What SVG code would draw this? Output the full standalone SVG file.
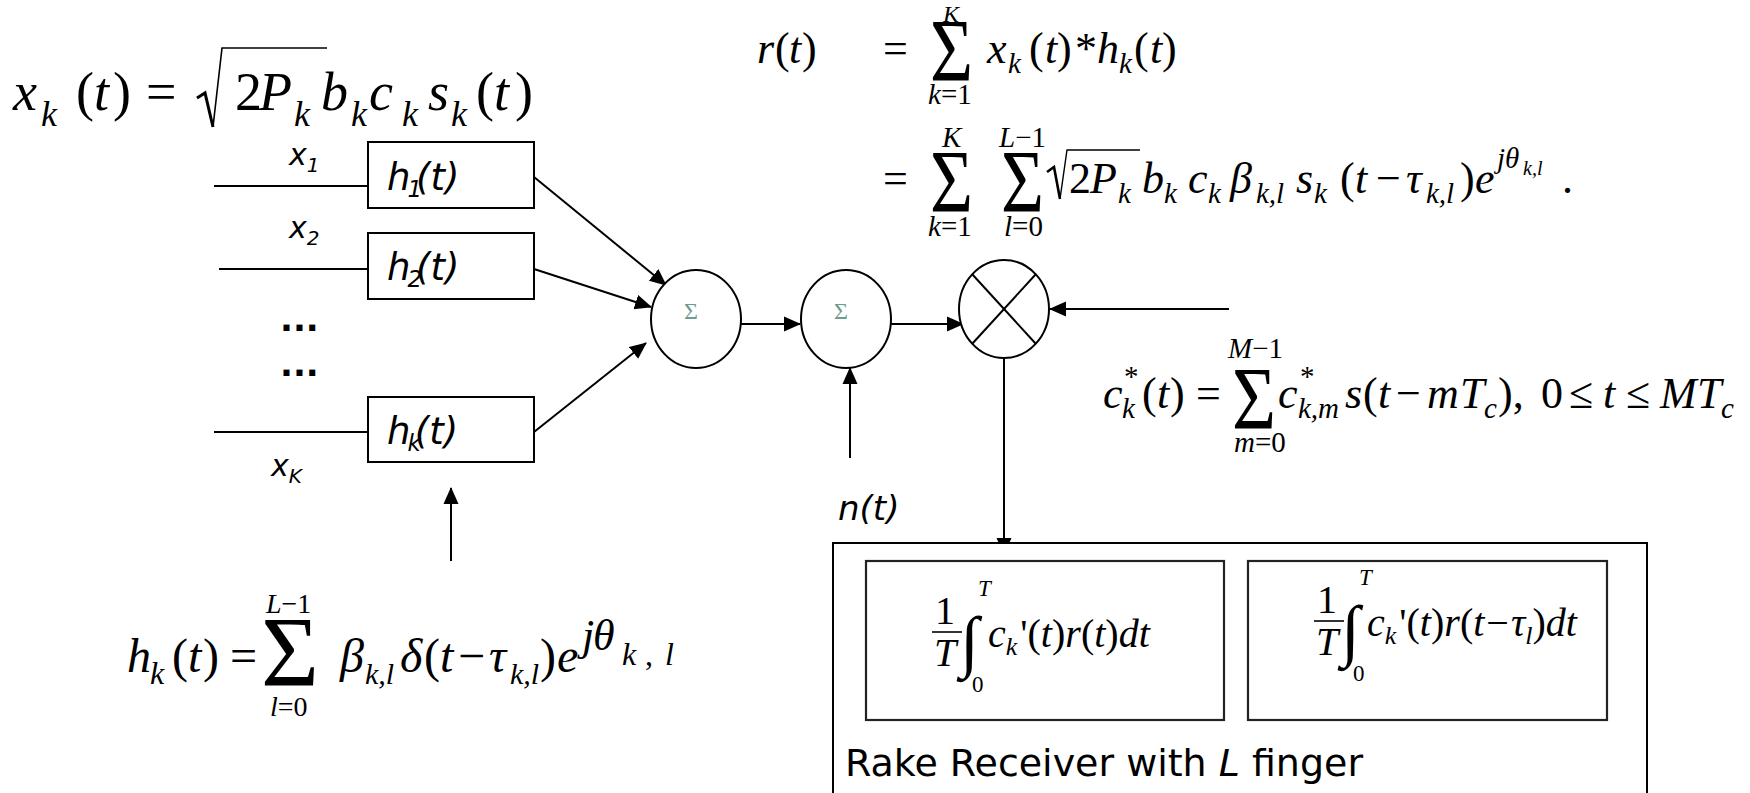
<svg xmlns="http://www.w3.org/2000/svg" width="1750" height="793" viewBox="0 0 1750 793">
<defs>
<style>
.m{font-family:'Liberation Serif',serif;fill:#000}
.i{font-style:italic}
.sn{font-family:'DejaVu Sans',sans-serif;font-style:oblique;fill:#000}
.ln{stroke:#000;stroke-width:2;fill:none}
.box{fill:#fff;stroke:#000;stroke-width:2}
.fbox{fill:#fff;stroke:#222;stroke-width:2.2}
.sig{font-family:'Liberation Serif',serif;font-size:24px;fill:#6e9c8e;text-anchor:middle}
.arr{marker-end:url(#ah)}
</style>
<marker id="ah" markerUnits="userSpaceOnUse" markerWidth="18" markerHeight="16" refX="16" refY="8" orient="auto"><path d="M0,0.5 L17,8 L0,15.5 z" fill="#000"/></marker>
</defs>
<rect width="1750" height="793" fill="#fff"/>

<g id="connectors">
<line class="ln" x1="214" y1="186" x2="369" y2="186"/>
<line class="ln" x1="219" y1="269" x2="369" y2="269"/>
<line class="ln" x1="214" y1="432" x2="369" y2="432"/>
<line class="ln arr" x1="534" y1="177" x2="666" y2="285"/>
<line class="ln arr" x1="534" y1="269" x2="651" y2="307"/>
<line class="ln arr" x1="534" y1="432" x2="646" y2="343"/>
<line class="ln arr" x1="734" y1="324" x2="800" y2="324"/>
<line class="ln arr" x1="884" y1="324" x2="963" y2="324"/>
<line class="ln arr" x1="1229" y1="309" x2="1050" y2="309"/>
<line class="ln arr" x1="850" y1="458" x2="850" y2="368"/>
<line class="ln arr" x1="1004" y1="358" x2="1004" y2="554"/>
<line class="ln arr" x1="451" y1="561" x2="451" y2="488"/>
</g>

<g id="n-h1"><rect class="box" x="368" y="142" width="166" height="66"/>
<text class="sn" x="387" y="190" font-size="37">h<tspan font-size="23" dy="7" dx="-3">1</tspan><tspan dy="-7" dx="-6">(t)</tspan></text></g>
<g id="n-h2"><rect class="box" x="368" y="233" width="166" height="66"/>
<text class="sn" x="387" y="280" font-size="37">h<tspan font-size="23" dy="7" dx="-3">2</tspan><tspan dy="-7" dx="-6">(t)</tspan></text></g>
<g id="n-hk"><rect class="box" x="368" y="397" width="166" height="65"/>
<text class="sn" x="387" y="444" font-size="37">h<tspan font-size="23" dy="7" dx="-3">k</tspan><tspan dy="-7" dx="-6">(t)</tspan></text></g>

<g id="labels-x">
<text class="sn" x="289" y="165" font-size="30">x<tspan font-size="20" dy="7">1</tspan></text>
<text class="sn" x="289" y="238" font-size="30">x<tspan font-size="20" dy="7">2</tspan></text>
<text class="sn" x="271" y="476" font-size="30">x<tspan font-size="20" dy="7">K</tspan></text>
<text x="280" y="331" font-family="'DejaVu Sans',sans-serif" font-weight="bold" font-size="34">...</text>
<text x="280" y="376" font-family="'DejaVu Sans',sans-serif" font-weight="bold" font-size="34">...</text>
<text class="sn" x="838" y="520" font-size="34">n(t)</text>
</g>

<g id="n-sum1"><ellipse class="box" cx="696" cy="319" rx="45" ry="49"/><text class="sig" x="691" y="319">Σ</text></g>
<g id="n-sum2"><ellipse class="box" cx="846" cy="319" rx="45" ry="49"/><text class="sig" x="841" y="319">Σ</text></g>
<g id="n-mult"><ellipse class="box" cx="1004" cy="309" rx="45" ry="49"/>
<line class="ln" x1="972" y1="274" x2="1036" y2="344"/><line class="ln" x1="1036" y1="274" x2="972" y2="344"/></g>

<g id="n-rake">
<rect class="box" x="833" y="543" width="814" height="270"/>
<text x="845" y="776" font-family="'DejaVu Sans',sans-serif" font-size="38" textLength="518" lengthAdjust="spacingAndGlyphs">Rake Receiver with <tspan font-style="oblique">L</tspan> finger</text>
</g>
<g id="n-finger1">
<rect class="fbox" x="866" y="561" width="358" height="159"/>
<text class="m" font-size="40" x="935" y="624">1</text>
<line x1="932" y1="632" x2="962" y2="632" stroke="#000" stroke-width="1.6"/>
<text class="m i" font-size="40" x="934" y="666">T</text>
<text class="m" font-size="68" x="960" y="664">∫</text>
<text class="m i" font-size="23" x="978" y="596">T</text>
<text class="m" font-size="23" x="972" y="692">0</text>
<text class="m" font-size="40" x="988" y="647"><tspan class="i">c</tspan><tspan class="i" font-size="26" dy="8">k</tspan><tspan dy="-8" dx="3">'(</tspan><tspan class="i">t</tspan>)<tspan class="i">r</tspan>(<tspan class="i">t</tspan>)<tspan class="i">dt</tspan></text>
</g>
<g id="n-finger2">
<rect class="fbox" x="1248" y="561" width="359" height="159"/>
<text class="m" font-size="40" x="1317" y="613">1</text>
<line x1="1314" y1="621" x2="1344" y2="621" stroke="#000" stroke-width="1.6"/>
<text class="m i" font-size="40" x="1316" y="655">T</text>
<text class="m" font-size="68" x="1341" y="653">∫</text>
<text class="m i" font-size="23" x="1359" y="585">T</text>
<text class="m" font-size="23" x="1353" y="681">0</text>
<text class="m" font-size="40" x="1367" y="636"><tspan class="i">c</tspan><tspan class="i" font-size="26" dy="8">k</tspan><tspan dy="-8" dx="3">'(</tspan><tspan class="i">t</tspan>)<tspan class="i">r</tspan>(<tspan class="i">t</tspan><tspan dx="2">−</tspan><tspan class="i" dx="2">τ</tspan><tspan class="i" font-size="26" dy="8">l</tspan><tspan dy="-8">)</tspan><tspan class="i">dt</tspan></text>
</g>

<g id="eq-xk">
<text class="m" font-size="54">
<tspan class="i" x="13" y="110">x</tspan><tspan class="i" x="41" y="126" font-size="36">k</tspan><tspan x="76" y="110">(</tspan><tspan class="i" x="94" y="110">t</tspan><tspan x="113" y="110">)</tspan><tspan x="146" y="110">=</tspan><tspan x="235" y="110">2</tspan><tspan class="i" x="259" y="110">P</tspan><tspan class="i" x="294" y="126" font-size="36">k</tspan><tspan class="i" x="321" y="110">b</tspan><tspan class="i" x="351" y="126" font-size="36">k</tspan><tspan class="i" x="369" y="110">c</tspan><tspan class="i" x="402" y="126" font-size="36">k</tspan><tspan class="i" x="428" y="110">s</tspan><tspan class="i" x="451" y="126" font-size="36">k</tspan><tspan x="476" y="110">(</tspan><tspan class="i" x="494" y="110">t</tspan><tspan x="515" y="110">)</tspan>
</text>
<polyline points="197,98 205,93 213,127" fill="none" stroke="#000" stroke-width="3"/>
<polyline points="213,127 222,48 327,48" fill="none" stroke="#000" stroke-width="1.6"/>
</g>

<g id="eq-rt">
<text class="m" font-size="44">
<tspan class="i" x="757" y="63">r</tspan><tspan x="775" y="63">(</tspan><tspan class="i" x="789" y="63">t</tspan><tspan x="802" y="63">)</tspan>
<tspan x="883" y="63">=</tspan>
<tspan class="i" x="987" y="63">x</tspan><tspan class="i" x="1008" y="73" font-size="29">k</tspan><tspan x="1029" y="63">(</tspan><tspan class="i" x="1045" y="63">t</tspan><tspan x="1057" y="63">)</tspan><tspan x="1075" y="63">*</tspan><tspan class="i" x="1097" y="63">h</tspan><tspan class="i" x="1119" y="73" font-size="29">k</tspan><tspan x="1134" y="63">(</tspan><tspan class="i" x="1150" y="63">t</tspan><tspan x="1162" y="63">)</tspan>
<tspan x="883" y="193">=</tspan>
<tspan x="1069" y="193">2</tspan><tspan class="i" x="1090" y="193">P</tspan><tspan class="i" x="1118" y="203" font-size="29">k</tspan><tspan class="i" x="1142" y="193">b</tspan><tspan class="i" x="1164" y="203" font-size="29">k</tspan><tspan class="i" x="1188" y="193">c</tspan><tspan class="i" x="1208" y="203" font-size="29">k</tspan><tspan class="i" x="1230" y="193">β</tspan><tspan class="i" x="1256" y="203" font-size="29">k,l</tspan><tspan class="i" x="1296" y="193">s</tspan><tspan class="i" x="1314" y="203" font-size="29">k</tspan><tspan x="1340" y="193">(</tspan><tspan class="i" x="1355" y="193">t</tspan><tspan x="1376" y="193">−</tspan><tspan class="i" x="1406" y="193">τ</tspan><tspan class="i" x="1426" y="203" font-size="29">k,l</tspan><tspan x="1460" y="193">)</tspan><tspan class="i" x="1475" y="193">e</tspan><tspan class="i" x="1497" y="168" font-size="29">jθ</tspan><tspan class="i" x="1523" y="175" font-size="20">k,l</tspan><tspan x="1562" y="193">.</tspan>
</text>
<text class="m" x="930" y="80" font-size="88" textLength="43" lengthAdjust="spacingAndGlyphs">Σ</text>
<text class="m i" x="943" y="22" font-size="24">K</text>
<text class="m" x="928" y="104" font-size="29"><tspan class="i">k</tspan>=1</text>
<text class="m" x="930" y="211" font-size="88" textLength="43" lengthAdjust="spacingAndGlyphs">Σ</text>
<text class="m i" x="942" y="147" font-size="29">K</text>
<text class="m" x="928" y="236" font-size="29"><tspan class="i">k</tspan>=1</text>
<text class="m" x="1001" y="211" font-size="88" textLength="43" lengthAdjust="spacingAndGlyphs">Σ</text>
<text class="m" x="999" y="147" font-size="29"><tspan class="i">L</tspan>−1</text>
<text class="m" x="1004" y="236" font-size="29"><tspan class="i">l</tspan>=0</text>
<polyline points="1047,172 1054,167 1060,199" fill="none" stroke="#000" stroke-width="2.6"/>
<polyline points="1060,199 1067,150 1140,150" fill="none" stroke="#000" stroke-width="1.4"/>
</g>

<g id="eq-ck">
<text class="m" font-size="44">
<tspan class="i" x="1103" y="408">c</tspan><tspan x="1124" y="386" font-size="29">*</tspan><tspan class="i" x="1122" y="418" font-size="29">k</tspan><tspan x="1142" y="408">(</tspan><tspan class="i" x="1157" y="408">t</tspan><tspan x="1170" y="408">)</tspan><tspan x="1196" y="408">=</tspan>
<tspan class="i" x="1278" y="408">c</tspan><tspan x="1300" y="386" font-size="29">*</tspan><tspan class="i" x="1298" y="418" font-size="29">k,m</tspan><tspan class="i" x="1345" y="408">s</tspan><tspan x="1363" y="408">(</tspan><tspan class="i" x="1378" y="408">t</tspan><tspan x="1396" y="408">−</tspan><tspan class="i" x="1427" y="408">m</tspan><tspan class="i" x="1460" y="408">T</tspan><tspan class="i" x="1484" y="418" font-size="29">c</tspan><tspan x="1498" y="408">),</tspan><tspan x="1541" y="408">0</tspan><tspan x="1569" y="408">≤</tspan><tspan class="i" x="1603" y="408">t</tspan><tspan x="1626" y="408">≤</tspan><tspan class="i" x="1660" y="408">M</tspan><tspan class="i" x="1697" y="408">T</tspan><tspan class="i" x="1721" y="418" font-size="29">c</tspan>
</text>
<text class="m" x="1232" y="428" font-size="88" textLength="44" lengthAdjust="spacingAndGlyphs">Σ</text>
<text class="m" x="1228" y="358" font-size="29"><tspan class="i">M</tspan>−1</text>
<text class="m" x="1234" y="452" font-size="29"><tspan class="i">m</tspan>=0</text>
</g>

<g id="eq-hk">
<text class="m" font-size="48">
<tspan class="i" x="127" y="672">h</tspan><tspan class="i" x="150" y="684" font-size="32">k</tspan><tspan x="172" y="672">(</tspan><tspan class="i" x="188" y="672">t</tspan><tspan x="203" y="672">)</tspan><tspan x="230" y="672">=</tspan>
<tspan class="i" x="340" y="672">β</tspan><tspan class="i" x="365" y="684" font-size="30">k,l</tspan><tspan class="i" x="400" y="672">δ</tspan><tspan x="424" y="672">(</tspan><tspan class="i" x="440" y="672">t</tspan><tspan x="458" y="672">−</tspan><tspan class="i" x="489" y="672">τ</tspan><tspan class="i" x="510" y="684" font-size="30">k,l</tspan><tspan x="540" y="672">)</tspan><tspan class="i" x="557" y="672">e</tspan><tspan class="i" x="582" y="650" font-size="44">j</tspan><tspan class="i" x="593" y="650" font-size="44">θ</tspan><tspan class="i" x="622" y="665" font-size="32">k</tspan><tspan x="645" y="665" font-size="32">,</tspan><tspan class="i" x="665" y="665" font-size="32">l</tspan>
</text>
<text class="m" x="261" y="685" font-size="100" textLength="58" lengthAdjust="spacingAndGlyphs">Σ</text>
<text class="m" x="266" y="613" font-size="28"><tspan class="i">L</tspan>−1</text>
<text class="m" x="270" y="716" font-size="28"><tspan class="i">l</tspan>=0</text>
</g>
</svg>
